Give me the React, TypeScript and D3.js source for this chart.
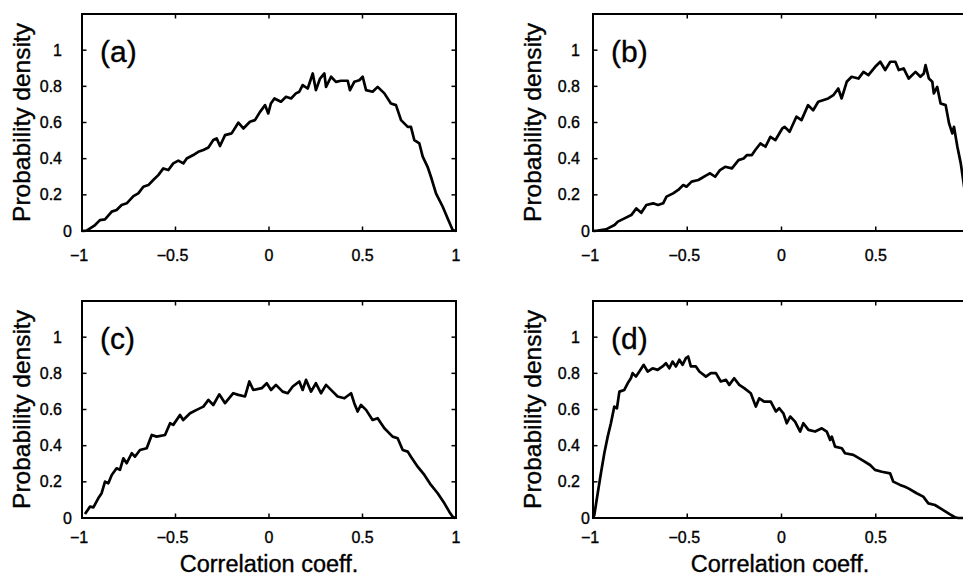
import React from "react";
import * as d3 from "d3";

type Pt = [number, number];

// Panel (a)
const seriesA: Pt[] = [
  [-1, 0], [-0.975, 0.002], [-0.93, 0.033], [-0.904, 0.06], [-0.877, 0.064], [-0.841, 0.107],
  [-0.815, 0.116], [-0.788, 0.144], [-0.761, 0.153], [-0.725, 0.193], [-0.699, 0.208],
  [-0.672, 0.245], [-0.645, 0.254], [-0.619, 0.282], [-0.592, 0.309], [-0.565, 0.346],
  [-0.538, 0.337], [-0.512, 0.374], [-0.485, 0.389], [-0.458, 0.374], [-0.44, 0.401],
  [-0.405, 0.42], [-0.378, 0.438], [-0.351, 0.448], [-0.324, 0.462], [-0.298, 0.503],
  [-0.28, 0.512], [-0.262, 0.47], [-0.235, 0.53], [-0.2, 0.54], [-0.164, 0.599],
  [-0.137, 0.567], [-0.102, 0.604], [-0.075, 0.613], [-0.048, 0.659], [-0.021, 0.696],
  [-0.004, 0.65], [0.01, 0.705], [0.029, 0.733], [0.064, 0.715], [0.091, 0.742],
  [0.118, 0.733], [0.144, 0.761], [0.162, 0.77], [0.18, 0.807], [0.207, 0.788],
  [0.234, 0.871], [0.251, 0.779], [0.273, 0.843], [0.296, 0.871], [0.305, 0.797],
  [0.332, 0.853], [0.358, 0.825], [0.385, 0.831], [0.421, 0.831], [0.433, 0.779],
  [0.456, 0.825], [0.483, 0.834], [0.501, 0.853], [0.519, 0.779], [0.554, 0.77],
  [0.581, 0.797], [0.617, 0.761], [0.652, 0.705], [0.679, 0.696], [0.706, 0.613],
  [0.742, 0.576], [0.759, 0.576], [0.777, 0.503], [0.804, 0.484], [0.822, 0.411],
  [0.848, 0.355], [0.866, 0.3], [0.893, 0.208], [0.929, 0.134], [0.955, 0.07],
  [0.982, 0.006], [1, 0],
];

// Panel (b)
const seriesB: Pt[] = [
  [-1, 0], [-0.975, 0.002], [-0.931, 0.009], [-0.886, 0.033], [-0.868, 0.052], [-0.833, 0.07],
  [-0.797, 0.088], [-0.77, 0.125], [-0.744, 0.101], [-0.717, 0.144], [-0.681, 0.153],
  [-0.655, 0.144], [-0.628, 0.153], [-0.61, 0.19], [-0.575, 0.208], [-0.548, 0.227],
  [-0.521, 0.254], [-0.504, 0.245], [-0.477, 0.273], [-0.441, 0.282], [-0.397, 0.309],
  [-0.379, 0.319], [-0.352, 0.3], [-0.326, 0.337], [-0.299, 0.355], [-0.263, 0.346],
  [-0.228, 0.392], [-0.201, 0.401], [-0.183, 0.42], [-0.157, 0.42], [-0.139, 0.448],
  [-0.112, 0.484], [-0.085, 0.466], [-0.059, 0.521], [-0.032, 0.503], [0.004, 0.567],
  [0.017, 0.576], [0.043, 0.549], [0.079, 0.632], [0.106, 0.613], [0.141, 0.696],
  [0.168, 0.668], [0.195, 0.715], [0.248, 0.733], [0.275, 0.751], [0.301, 0.788],
  [0.319, 0.733], [0.346, 0.825], [0.372, 0.853], [0.408, 0.843], [0.435, 0.88],
  [0.461, 0.862], [0.497, 0.908], [0.524, 0.936], [0.55, 0.89], [0.577, 0.936],
  [0.604, 0.936], [0.622, 0.89], [0.648, 0.899], [0.675, 0.843], [0.711, 0.88],
  [0.737, 0.853], [0.755, 0.871], [0.764, 0.917], [0.782, 0.843], [0.8, 0.825],
  [0.808, 0.761], [0.826, 0.797], [0.844, 0.705], [0.871, 0.696], [0.889, 0.595],
  [0.906, 0.54], [0.915, 0.576], [0.933, 0.466], [0.951, 0.374], [0.969, 0.245],
  [0.977, 0.153], [0.99, 0.07], [1, 0],
];

// Panel (c)
const seriesC: Pt[] = [
  [-0.984, 0.022], [-0.957, 0.063], [-0.939, 0.059], [-0.913, 0.109], [-0.895, 0.137],
  [-0.877, 0.201], [-0.859, 0.192], [-0.841, 0.238], [-0.815, 0.275], [-0.797, 0.266],
  [-0.779, 0.33], [-0.761, 0.303], [-0.734, 0.358], [-0.717, 0.339], [-0.69, 0.376],
  [-0.654, 0.386], [-0.627, 0.459], [-0.601, 0.45], [-0.556, 0.459], [-0.529, 0.524],
  [-0.512, 0.515], [-0.476, 0.57], [-0.459, 0.542], [-0.422, 0.579], [-0.387, 0.598],
  [-0.351, 0.616], [-0.324, 0.653], [-0.298, 0.625], [-0.266, 0.684], [-0.235, 0.635],
  [-0.191, 0.69], [-0.164, 0.681], [-0.128, 0.672], [-0.105, 0.755], [-0.084, 0.708],
  [-0.039, 0.718], [-0.012, 0.745], [0.011, 0.708], [0.037, 0.736], [0.073, 0.699],
  [0.1, 0.69], [0.127, 0.727], [0.162, 0.755], [0.18, 0.708], [0.198, 0.764],
  [0.225, 0.699], [0.251, 0.745], [0.278, 0.69], [0.305, 0.736], [0.341, 0.699],
  [0.367, 0.672], [0.403, 0.662], [0.439, 0.69], [0.456, 0.635], [0.474, 0.589],
  [0.492, 0.625], [0.519, 0.598], [0.554, 0.542], [0.581, 0.552], [0.617, 0.496],
  [0.661, 0.45], [0.688, 0.441], [0.715, 0.376], [0.742, 0.367], [0.759, 0.339],
  [0.795, 0.284], [0.831, 0.238], [0.866, 0.183], [0.902, 0.137], [0.938, 0.081],
  [0.964, 0.035], [0.982, 0.007], [0.995, 0],
];

// Panel (d)
const seriesD: Pt[] = [
  [-1, 0], [-0.993, 0.017], [-0.975, 0.137], [-0.958, 0.247], [-0.94, 0.358], [-0.922, 0.45],
  [-0.905, 0.524], [-0.887, 0.616], [-0.873, 0.607], [-0.86, 0.699], [-0.834, 0.708],
  [-0.816, 0.745], [-0.799, 0.773], [-0.79, 0.801], [-0.772, 0.782], [-0.754, 0.81],
  [-0.731, 0.847], [-0.71, 0.81], [-0.684, 0.828], [-0.657, 0.819], [-0.631, 0.838],
  [-0.613, 0.856], [-0.595, 0.828], [-0.578, 0.865], [-0.56, 0.838], [-0.542, 0.875],
  [-0.525, 0.847], [-0.507, 0.884], [-0.495, 0.893], [-0.481, 0.838], [-0.454, 0.838],
  [-0.436, 0.81], [-0.401, 0.782], [-0.375, 0.801], [-0.348, 0.801], [-0.322, 0.755],
  [-0.295, 0.764], [-0.277, 0.736], [-0.251, 0.773], [-0.224, 0.736], [-0.198, 0.718],
  [-0.163, 0.69], [-0.136, 0.616], [-0.118, 0.662], [-0.092, 0.644], [-0.057, 0.644],
  [-0.03, 0.589], [-0.012, 0.607], [0.01, 0.579], [0.028, 0.524], [0.046, 0.561],
  [0.072, 0.533], [0.099, 0.478], [0.116, 0.524], [0.143, 0.487], [0.178, 0.478],
  [0.214, 0.496], [0.24, 0.478], [0.258, 0.432], [0.267, 0.45], [0.284, 0.395],
  [0.32, 0.386], [0.337, 0.358], [0.381, 0.349], [0.426, 0.321], [0.47, 0.293],
  [0.496, 0.266], [0.532, 0.256], [0.576, 0.247], [0.593, 0.201], [0.629, 0.183],
  [0.655, 0.173], [0.673, 0.164], [0.717, 0.137], [0.752, 0.118], [0.779, 0.081],
  [0.814, 0.072], [0.858, 0.044], [0.894, 0.02], [0.92, 0.004], [0.938, 0], [1, 0],
];

const xTicks = [-1, -0.5, 0, 0.5, 1];
const xTickLabels = ["\u22121", "\u22120.5", "0", "0.5", "1"];
const yTicks = [0, 0.2, 0.4, 0.6, 0.8, 1];
const yTickLabels = ["0", "0.2", "0.4", "0.6", "0.8", "1"];
const panelLabels = ["(a)", "(b)", "(c)", "(d)"];
const yTitle = "Probability density";
const xTitle = "Correlation coeff.";
const xDomain: [number, number] = [-1, 1];
const yDomain: [number, number] = [0, 1.2];

const FONT = "'Liberation Sans', Arial, Helvetica, sans-serif";
const W = 963;
const H = 578;

interface PanelCfg {
  data: Pt[];
  label: string;
  left: number;
  top: number;
  width: number;
  height: number;
  tickGap: number;
  zeroGap: number;
  xLabelDy: number;
  showXTitle: boolean;
}

const panels: PanelCfg[] = [
  { data: seriesA, label: panelLabels[0], left: 82, top: 14, width: 374, height: 217, tickGap: 20, zeroGap: 10, xLabelDy: 30, showXTitle: false },
  { data: seriesB, label: panelLabels[1], left: 593, top: 14, width: 377, height: 217, tickGap: 13, zeroGap: 3, xLabelDy: 30, showXTitle: false },
  { data: seriesC, label: panelLabels[2], left: 82, top: 301, width: 374, height: 217, tickGap: 20, zeroGap: 10, xLabelDy: 25, showXTitle: true },
  { data: seriesD, label: panelLabels[3], left: 593, top: 301, width: 377, height: 217, tickGap: 13, zeroGap: 3, xLabelDy: 25, showXTitle: true },
];

const textStroke = { stroke: "#000", strokeWidth: 0.35 };

function Panel({ cfg }: { cfg: PanelCfg }) {
  const { left, top, width, height } = cfg;
  const x = d3.scaleLinear().domain(xDomain).range([left, left + width]);
  const y = d3.scaleLinear().domain(yDomain).range([top + height, top]);
  const line = d3.line<Pt>().x((d) => x(d[0])).y((d) => y(d[1]));
  const tl = 4.5;
  const bottom = top + height;
  const right = left + width;
  return (
    <g>
      <path d={line(cfg.data) || ""} fill="none" stroke="#000" strokeWidth={2.7} strokeLinejoin="round" />
      <rect x={left} y={top} width={width} height={height} fill="none" stroke="#000" strokeWidth={2} />
      {xTicks.map((t, i) => (
        <g key={"xt" + i}>
          <line x1={x(t)} x2={x(t)} y1={bottom} y2={bottom - tl} stroke="#000" strokeWidth={1.5} />
          <line x1={x(t)} x2={x(t)} y1={top} y2={top + tl} stroke="#000" strokeWidth={1.5} />
          {x(t) < W - 4 && (
            <text x={x(t) - (t < 0 ? 3 : 0)} y={bottom + cfg.xLabelDy} textAnchor="middle" fontFamily={FONT} fontSize={16} {...textStroke}>
              {xTickLabels[i]}
            </text>
          )}
        </g>
      ))}
      {yTicks.map((t, i) => (
        <g key={"yt" + i}>
          <line x1={left} x2={left + tl} y1={y(t)} y2={y(t)} stroke="#000" strokeWidth={1.5} />
          <line x1={right} x2={right - tl} y1={y(t)} y2={y(t)} stroke="#000" strokeWidth={1.5} />
          <text x={left - (t === 0 ? cfg.zeroGap : cfg.tickGap)} y={y(t) + 5.5} textAnchor="end" fontFamily={FONT} fontSize={16} {...textStroke}>
            {yTickLabels[i]}
          </text>
        </g>
      ))}
      <text x={left + 18} y={top + 48} fontFamily={FONT} fontSize={30} {...textStroke}>
        {cfg.label}
      </text>
      <text
        transform={`translate(${left - 52},${top + height / 2}) rotate(-90)`}
        textAnchor="middle"
        fontFamily={FONT}
        fontSize={24.5}
        {...textStroke}
      >
        {yTitle}
      </text>
      {cfg.showXTitle && (
        <text x={left + 187} y={572} textAnchor="middle" fontFamily={FONT} fontSize={23.5} {...textStroke}>
          {xTitle}
        </text>
      )}
    </g>
  );
}

export default function App() {
  return (
    <div style={{ position: "fixed", left: 0, top: 0, width: W, height: H, overflow: "hidden", background: "#fff" }}>
      <svg width={W} height={H} viewBox={`0 0 ${W} ${H}`} style={{ display: "block" }}>
        <rect x={0} y={0} width={W} height={H} fill="#fff" />
        {panels.map((p, i) => (
          <Panel key={i} cfg={p} />
        ))}
      </svg>
    </div>
  );
}
